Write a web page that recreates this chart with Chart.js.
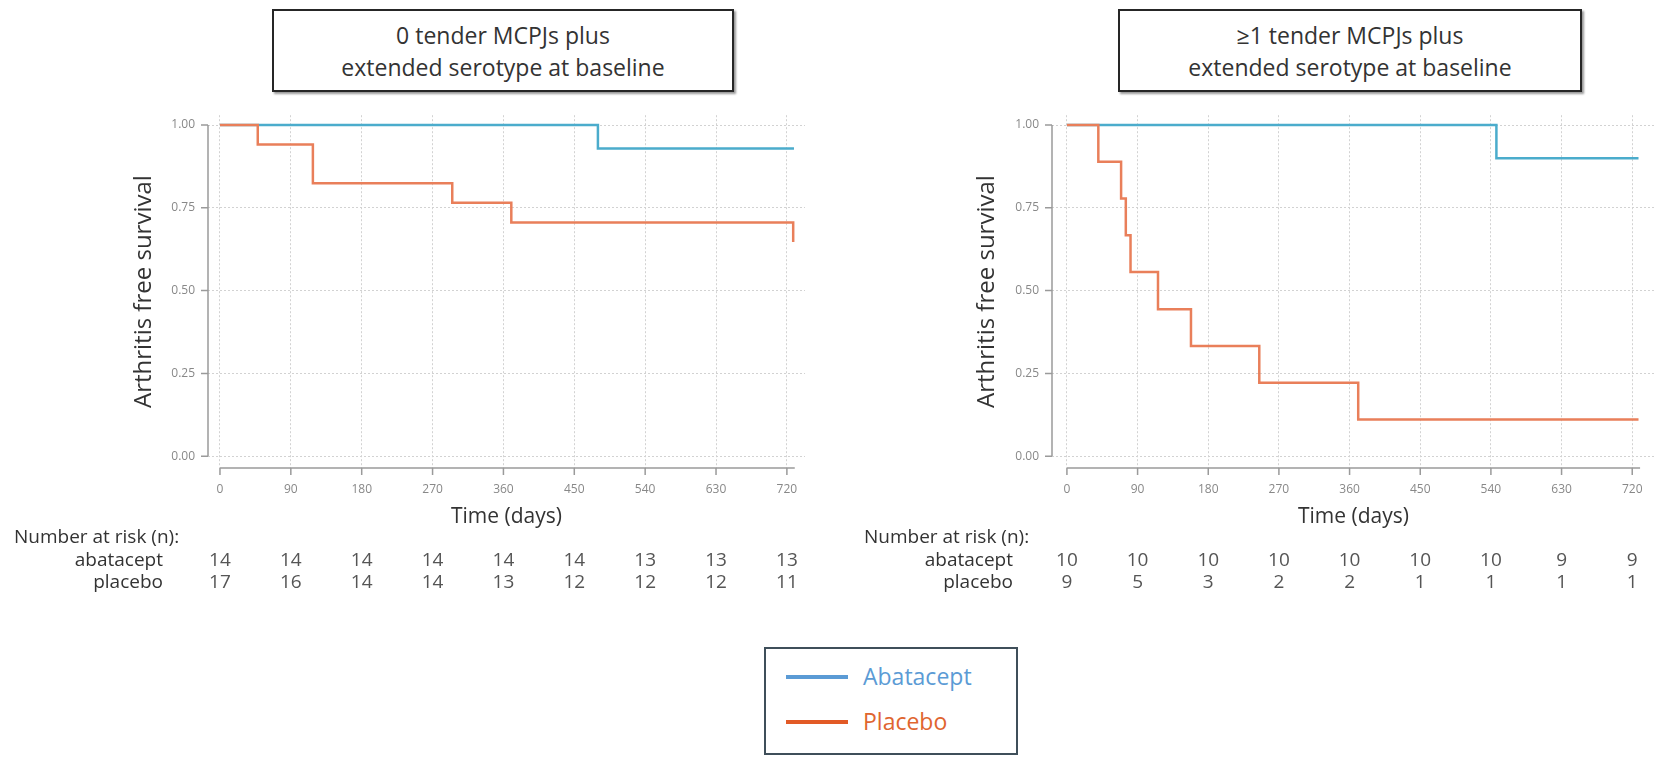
<!DOCTYPE html>
<html>
<head>
<title>Arthritis free survival by baseline subgroup</title>
<script src="https://cdn.jsdelivr.net/npm/chart.js"></script>
<style>
  body { margin: 0; width: 1666px; height: 757px; background: #fff; position: relative; overflow: hidden;
         font-family: "Open Sans", sans-serif; color: #333; }
  .titlebox { position: absolute; top: 9px; height: 83px; box-sizing: border-box; border: 2px solid #262626;
              box-shadow: 2px 2px 2px #999; display: flex; align-items: center; justify-content: center;
              text-align: center; font-size: 23px; line-height: 32px; color: #333; background: #fff; }
  .panel { position: absolute; top: 95px; width: 833px; height: 510px; }
  #legend { position: absolute; left: 764px; top: 647px; width: 254px; height: 108px; box-sizing: border-box;
            border: 2px solid #3f4f5a; }
  .legline { position: absolute; left: 20px; width: 62px; height: 4px; }
  .legtext { position: absolute; left: 97px; font-size: 23px; line-height: 30px; white-space: nowrap; }
</style>
</head>
<body>
<div class="titlebox" style="left:272px;width:462px">0 tender MCPJs plus<br>extended serotype at baseline</div>
<div class="titlebox" style="left:1118px;width:464px">&ge;1 tender MCPJs plus<br>extended serotype at baseline</div>

<canvas id="left" class="panel" style="left:0px" width="833" height="510"></canvas>
<canvas id="right" class="panel" style="left:833px" width="833" height="510"></canvas>

<div id="legend">
  <div class="legline" style="top:26px;background:#5b9bd5"></div>
  <div class="legtext" style="top:12px;color:#5b9bd5">Abatacept</div>
  <div class="legline" style="top:71px;background:#e25a26"></div>
  <div class="legtext" style="top:57px;color:#e0652f">Placebo</div>
</div>

<script>
// ---- data ----
const timeTicks = [0, 90, 180, 270, 360, 450, 540, 630, 720];
const survTicks = [0, 0.25, 0.5, 0.75, 1];

// 0 tender MCPJs
const leftAbaTime = [0, 480, 729];
const leftAbaSurv = [1, 0.929, 0.929];
const leftPlaTime = [0, 48, 118, 295, 370, 728];
const leftPlaSurv = [1, 0.941, 0.824, 0.765, 0.706, 0.647];
const leftRiskAba = [14, 14, 14, 14, 14, 14, 13, 13, 13];
const leftRiskPla = [17, 16, 14, 14, 13, 12, 12, 12, 11];

// >=1 tender MCPJs
const rightAbaTime = [0, 547, 728];
const rightAbaSurv = [1, 0.9, 0.9];
const rightPlaTime = [0, 40, 69, 75, 81, 116, 158, 245, 371, 728];
const rightPlaSurv = [1, 0.889, 0.778, 0.667, 0.556, 0.444, 0.333, 0.222, 0.111, 0.111];
const rightRiskAba = [10, 10, 10, 10, 10, 10, 10, 9, 9];
const rightRiskPla = [9, 5, 3, 2, 2, 1, 1, 1, 1];

const groupNames = ['abatacept', 'placebo'];
const blue = 'rgb(75,172,204)';
const orange = 'rgb(233,127,90)';

Chart.defaults.font.family = '"Open Sans", sans-serif';

function pts(t, s) { return t.map((v, i) => ({x: v, y: s[i]})); }

// axis lines, tick marks and the number-at-risk table
const kmExtras = {
  id: 'kmExtras',
  afterDraw(chart) {
    const {ctx, chartArea: a, scales: {x, y}} = chart;
    const o = chart.options.plugins.kmExtras;
    ctx.save();
    ctx.strokeStyle = '#9a9a9a';
    ctx.lineWidth = 1.5;
    ctx.beginPath();
    ctx.moveTo(a.left, y.getPixelForValue(0));
    ctx.lineTo(a.left, y.getPixelForValue(1));
    survTicks.forEach(v => {
      const py = y.getPixelForValue(v);
      ctx.moveTo(a.left - 7, py);
      ctx.lineTo(a.left, py);
    });
    ctx.moveTo(x.getPixelForValue(0), a.bottom);
    ctx.lineTo(x.getPixelForValue(730), a.bottom);
    timeTicks.forEach(v => {
      const px = x.getPixelForValue(v);
      ctx.moveTo(px, a.bottom);
      ctx.lineTo(px, a.bottom + 7);
    });
    ctx.stroke();

    ctx.font = '19px "Open Sans"';
    ctx.fillStyle = '#333';
    ctx.textBaseline = 'middle';
    ctx.textAlign = 'left';
    ctx.fillText('Number at risk (n):', a.left + o.headX, a.bottom + 70);
    ctx.textAlign = 'right';
    groupNames.forEach((g, r) => ctx.fillText(g, a.left + o.nameX, a.bottom + 93 + r * 22));
    ctx.textAlign = 'center';
    ctx.fillStyle = '#555';
    o.risk.forEach((row, r) => row.forEach((n, i) => {
      ctx.fillText(n, x.getPixelForValue(timeTicks[i]), a.bottom + 93 + r * 22);
    }));
    ctx.restore();
  }
};

function makeKM(id, aba, pla, extras, pad, yWidth, xmin, xmax) {
  const gridStyle = {color: '#d2d2d2', drawTicks: false, lineWidth: 1};
  return new Chart(document.getElementById(id), {
    type: 'line',
    data: {
      datasets: [
        {label: 'Placebo', data: pla, borderColor: orange, borderWidth: 2.5, stepped: 'before'},
        {label: 'Abatacept', data: aba, borderColor: blue, borderWidth: 2.5, stepped: 'before'}
      ]
    },
    options: {
      responsive: false,
      animation: false,
      layout: {padding: pad},
      elements: {point: {radius: 0}},
      plugins: {legend: {display: false}, tooltip: {enabled: false}, kmExtras: extras},
      scales: {
        x: {
          type: 'linear', min: xmin, max: xmax,
          afterBuildTicks: s => { s.ticks = timeTicks.map(v => ({value: v})); },
          afterFit: s => { s.height = 62; },
          grid: gridStyle,
          border: {display: false, dash: [2, 2]},
          ticks: {padding: 14, color: '#888', font: {size: 12}, maxRotation: 0, autoSkip: false},
          title: {display: true, text: 'Time (days)', color: '#333', font: {size: 21}, padding: 0}
        },
        y: {
          min: -0.0355, max: 1.0296,
          afterBuildTicks: s => { s.ticks = survTicks.map(v => ({value: v})); },
          afterFit: s => { s.width = yWidth; },
          grid: gridStyle,
          border: {display: false, dash: [2, 2]},
          ticks: {padding: 13, color: '#888', font: {size: 12}, callback: v => v.toFixed(2)},
          title: {display: true, text: 'Arthritis free survival', color: '#333', font: {size: 24}, padding: 0}
        }
      }
    },
    plugins: [kmExtras]
  });
}

makeKM('left', pts(leftAbaTime, leftAbaSurv), pts(leftPlaTime, leftPlaSurv),
       {risk: [leftRiskAba, leftRiskPla], headX: -194, nameX: -45},
       {left: 130, right: 28, top: 13, bottom: 75}, 78, -15.2, 743);
makeKM('right', pts(rightAbaTime, rightAbaSurv), pts(rightPlaTime, rightPlaSurv),
       {risk: [rightRiskAba, rightRiskPla], headX: -188, nameX: -39},
       {left: 140, right: 11, top: 13, bottom: 75}, 79, -19, 749);
</script>
</body>
</html>
